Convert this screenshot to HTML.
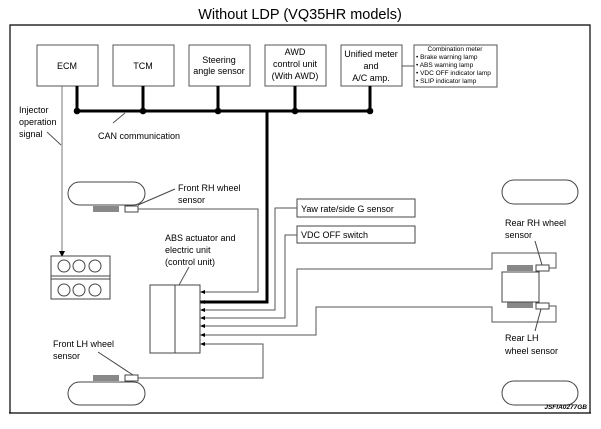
<!DOCTYPE html>
<html><head><meta charset="utf-8"><style>
html,body{margin:0;padding:0;background:#fff}
svg{display:block}
text{font-family:"Liberation Sans",Arial,sans-serif;fill:#000}
</style></head><body>
<svg width="601" height="429" viewBox="0 0 601 429" xmlns="http://www.w3.org/2000/svg">
<rect width="601" height="429" fill="#fff"/>
<text x="300" y="19" font-size="14.5" text-anchor="middle">Without LDP (VQ35HR models)</text>
<polyline points="10,413 10,25 590,25 590,413" fill="none" stroke="#000" stroke-width="1.2"/>
<line x1="9" y1="413" x2="591" y2="413" stroke="#000" stroke-width="1.2"/>

<g fill="#fff" stroke="#555" stroke-width="1">
<rect x="37" y="45" width="61" height="41"/>
<rect x="113" y="45" width="61" height="41"/>
<rect x="189" y="45" width="61" height="41"/>
<rect x="265" y="45" width="61" height="41"/>
<rect x="341" y="45" width="61" height="41"/>
<rect x="414" y="45" width="83" height="42"/>
</g>
<g font-size="9" text-anchor="middle">
<text x="67" y="69">ECM</text>
<text x="143" y="69">TCM</text>
<text x="219" y="63">Steering</text>
<text x="219" y="74">angle sensor</text>
<text x="295" y="55">AWD</text>
<text x="295" y="67">control unit</text>
<text x="295" y="79">(With AWD)</text>
<text x="371" y="57">Unified meter</text>
<text x="371" y="69">and</text>
<text x="371" y="81">A/C amp.</text>
</g>
<g font-size="6.5">
<text x="455" y="51" text-anchor="middle">Combination meter</text>
<text x="416" y="59">• Brake warning lamp</text>
<text x="416" y="67">• ABS warning lamp</text>
<text x="416" y="75">• VDC OFF indicator lamp</text>
<text x="416" y="83">• SLIP indicator lamp</text>
</g>
<line x1="402" y1="66" x2="414" y2="66" stroke="#555"/>

<g stroke="#000" stroke-width="3" fill="none">
<line x1="77" y1="111" x2="370" y2="111"/>
<line x1="77" y1="86" x2="77" y2="111"/>
<line x1="143" y1="86" x2="143" y2="111"/>
<line x1="218" y1="86" x2="218" y2="111"/>
<line x1="295" y1="86" x2="295" y2="111"/>
<line x1="370" y1="86" x2="370" y2="111"/>
<polyline points="267,111 267,302 200,302"/>
</g>
<g fill="#000">
<circle cx="77" cy="111" r="3.3"/><circle cx="143" cy="111" r="3.3"/><circle cx="218" cy="111" r="3.3"/><circle cx="295" cy="111" r="3.3"/><circle cx="370" cy="111" r="3.3"/>
</g>
<line x1="113" y1="123" x2="125" y2="113" stroke="#555"/>
<text x="98" y="139" font-size="9">CAN communication</text>

<g font-size="9"><text x="19" y="113">Injector</text><text x="19" y="125">operation</text><text x="19" y="137">signal</text></g>
<line x1="47" y1="132" x2="61" y2="145" stroke="#555"/>
<line x1="62" y1="86" x2="62" y2="252" stroke="#777" stroke-width="1"/>
<polygon points="59,251 65,251 62,257" fill="#000"/>
<rect x="51" y="256" width="59" height="43" fill="#fff" stroke="#444"/>
<line x1="51" y1="276" x2="110" y2="276" stroke="#444"/>
<line x1="51" y1="279" x2="110" y2="279" stroke="#444"/>
<g fill="none" stroke="#444">
<circle cx="64" cy="266" r="6"/><circle cx="79" cy="266" r="6"/><circle cx="95" cy="266" r="6"/>
<circle cx="64" cy="290" r="6"/><circle cx="79" cy="290" r="6"/><circle cx="95" cy="290" r="6"/>
</g>

<g fill="#fff" stroke="#444">
<rect x="68" y="182" width="77" height="23" rx="11.5"/>
<rect x="68" y="382" width="77" height="23" rx="11.5"/>
<rect x="502" y="180" width="76" height="24" rx="12"/>
<rect x="502" y="381" width="76" height="24" rx="12"/>
</g>
<g stroke="#111" stroke-width="1">
<g id="t1">
<line x1="94" y1="206" x2="94" y2="212"/><line x1="96" y1="206" x2="96" y2="212"/><line x1="98" y1="206" x2="98" y2="212"/><line x1="100" y1="206" x2="100" y2="212"/><line x1="102" y1="206" x2="102" y2="212"/><line x1="104" y1="206" x2="104" y2="212"/><line x1="106" y1="206" x2="106" y2="212"/><line x1="108" y1="206" x2="108" y2="212"/><line x1="110" y1="206" x2="110" y2="212"/><line x1="112" y1="206" x2="112" y2="212"/><line x1="114" y1="206" x2="114" y2="212"/><line x1="116" y1="206" x2="116" y2="212"/><line x1="118" y1="206" x2="118" y2="212"/>
</g>
<use href="#t1" transform="translate(0,169)"/>
<use href="#t1" transform="translate(414,59)"/>
<use href="#t1" transform="translate(414,96)"/>
</g>
<g fill="#fff" stroke="#444">
<rect x="125" y="206" width="13" height="6"/>
<rect x="125" y="375" width="13" height="6"/>
<rect x="536" y="265" width="13" height="6"/>
<rect x="536" y="303" width="13" height="6"/>
<rect x="502" y="272" width="37" height="30"/>
</g>

<rect x="150" y="285" width="50" height="68" fill="#fff" stroke="#444"/>
<line x1="175" y1="285" x2="175" y2="353" stroke="#444"/>
<g font-size="9"><text x="165" y="241">ABS actuator and</text><text x="165" y="253">electric unit</text><text x="165" y="265">(control unit)</text></g>
<line x1="179" y1="285" x2="189" y2="267" stroke="#555"/>

<rect x="297" y="199" width="118" height="18" fill="#fff" stroke="#444"/>
<text x="301" y="212" font-size="9">Yaw rate/side G sensor</text>
<rect x="297" y="226" width="118" height="17" fill="#fff" stroke="#444"/>
<text x="301" y="238" font-size="9">VDC OFF switch</text>

<g fill="none" stroke="#555" stroke-width="1">
<polyline points="138,209 258,209 258,292 202,292"/>
<polyline points="297,208 275,208 275,310 202,310"/>
<polyline points="297,235 285,235 285,318 202,318"/>
<polyline points="549,268 556,268 556,253 492,253 492,269 297,269 297,326 202,326"/>
<polyline points="549,306 556,306 556,322 492,322 492,307 316,307 316,335 202,335"/>
<polyline points="138,378 263,378 263,344 202,344"/>
</g>
<g fill="#000">
<polygon points="200,292 205,290 205,294"/>
<polygon points="200,302 205,300 205,304"/>
<polygon points="200,310 205,308 205,312"/>
<polygon points="200,318 205,316 205,320"/>
<polygon points="200,326 205,324 205,328"/>
<polygon points="200,335 205,333 205,337"/>
<polygon points="200,344 205,342 205,346"/>
</g>

<g font-size="9">
<text x="178" y="191">Front RH wheel</text><text x="178" y="203">sensor</text>
<text x="53" y="347">Front LH wheel</text><text x="53" y="359">sensor</text>
<text x="505" y="226">Rear RH wheel</text><text x="505" y="238">sensor</text>
<text x="505" y="341">Rear LH</text><text x="505" y="354">wheel sensor</text>
</g>
<g stroke="#444" fill="none">
<line x1="175" y1="189" x2="138" y2="205"/>
<line x1="98" y1="352" x2="133" y2="375"/>
<line x1="535" y1="241" x2="542" y2="265"/>
<line x1="541" y1="309" x2="535" y2="331"/>
</g>
<text x="587" y="409" font-size="6.5" text-anchor="end" font-style="italic" font-weight="bold">JSFIA0277GB</text>
</svg>
</body></html>
